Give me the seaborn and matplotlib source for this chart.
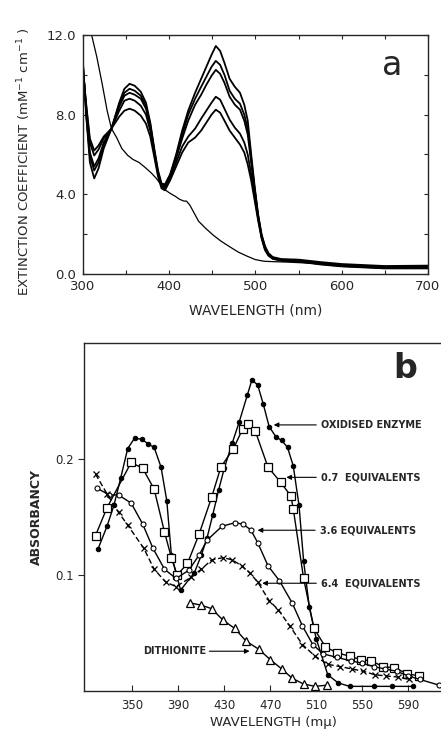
import matplotlib
matplotlib.use("Agg")
import matplotlib.pyplot as plt
import pandas as pd
import seaborn as sns

# ---------------------------------------------------------------------------
# Panel a: extinction coefficient spectra (titration series + reduced form)
# ---------------------------------------------------------------------------
WL_A = [300, 304, 308, 313, 318, 324, 333, 342, 348, 354, 360, 367, 373, 378,
        383, 387, 391, 395, 401, 408, 415, 422, 430, 437, 443, 449, 454, 459,
        464, 470, 476, 482, 487, 491, 495, 499, 503, 507, 511, 515, 520, 530,
        550, 575, 600, 650, 700]
SPEC_1 = [10.6, 7.8, 5.6, 4.8, 5.3, 6.3, 7.3, 8.6, 9.3, 9.55, 9.45, 9.15, 8.6, 7.6,
          6.2, 5.2, 4.55, 4.5, 5.0, 6.0, 7.2, 8.2, 9.1, 9.8, 10.4, 11.0, 11.45, 11.2,
          10.6, 9.8, 9.4, 9.1, 8.5, 7.7, 6.0, 4.4, 3.0, 2.0, 1.4, 1.05, 0.85, 0.75,
          0.72, 0.6, 0.5, 0.4, 0.42]
SPEC_2 = [10.5, 7.9, 5.9, 5.2, 5.6, 6.5, 7.3, 8.5, 9.1, 9.3, 9.2, 8.95, 8.45, 7.5,
          6.1, 5.1, 4.5, 4.45, 4.95, 5.9, 7.0, 8.0, 8.8, 9.4, 9.9, 10.4, 10.7, 10.5,
          10.0, 9.2, 8.8, 8.55, 8.0, 7.3, 5.8, 4.3, 2.95, 1.95, 1.35, 1.0, 0.82, 0.72,
          0.68, 0.55, 0.45, 0.36, 0.36]
SPEC_3 = [10.4, 8.0, 6.1, 5.4, 5.8, 6.6, 7.3, 8.4, 8.95, 9.1, 9.0, 8.8, 8.3, 7.4,
          6.05, 5.05, 4.45, 4.4, 4.9, 5.8, 6.8, 7.7, 8.5, 9.0, 9.5, 9.95, 10.25, 10.05,
          9.6, 8.9, 8.5, 8.25, 7.7, 7.0, 5.6, 4.2, 2.9, 1.9, 1.3, 1.0, 0.8, 0.7,
          0.66, 0.52, 0.42, 0.33, 0.32]
SPEC_4 = [10.3, 8.3, 6.6, 5.95, 6.25, 6.8, 7.3, 8.2, 8.7, 8.8, 8.7, 8.45, 8.0, 7.2,
          5.95, 5.0, 4.4, 4.3, 4.8, 5.6, 6.4, 6.9, 7.3, 7.8, 8.2, 8.6, 8.9, 8.75,
          8.3, 7.75, 7.35, 7.05, 6.6, 6.0, 5.0, 3.9, 2.8, 1.85, 1.25, 0.95, 0.78, 0.68,
          0.64, 0.5, 0.4, 0.3, 0.3]
SPEC_5 = [10.2, 8.4, 6.8, 6.2, 6.45, 6.9, 7.3, 7.9, 8.2, 8.3, 8.2, 7.95, 7.55, 6.9,
          5.8, 4.9, 4.3, 4.2, 4.7, 5.4, 6.1, 6.6, 6.85, 7.2, 7.6, 8.0, 8.25, 8.1,
          7.7, 7.2, 6.85, 6.5, 6.1, 5.5, 4.7, 3.7, 2.7, 1.8, 1.2, 0.92, 0.76, 0.66,
          0.62, 0.48, 0.38, 0.28, 0.28]

WL_RED = [300, 305, 310, 316, 322, 328, 333, 339, 345, 352, 358, 365, 372, 379,
          385, 391, 396, 401, 407, 412, 417, 420, 424, 429, 434, 442, 451, 460,
          470, 480, 490, 500, 510, 520, 535, 560, 600, 650, 700]
SPEC_RED = [13.9, 12.9, 12.0, 10.9, 9.6, 8.2, 7.3, 6.85, 6.3, 5.95, 5.75, 5.6, 5.35,
            5.08, 4.8, 4.45, 4.2, 4.05, 3.9, 3.75, 3.66, 3.66, 3.45, 3.05, 2.65, 2.3,
            1.95, 1.65, 1.37, 1.1, 0.9, 0.72, 0.64, 0.62, 0.6, 0.55, 0.45, 0.35, 0.3]

# ---------------------------------------------------------------------------
# Panel b: absorbance during reductive titration
# ---------------------------------------------------------------------------
OX_X = [320, 328, 334, 340, 346, 352, 358, 364, 369, 375, 380, 384, 392, 404,
        410, 415, 420, 425, 430, 437, 443, 450, 454, 459, 464, 469, 475, 480,
        485, 490, 495, 499, 504, 510, 520, 529, 539, 560, 576, 594]
OX_Y = [0.122, 0.142, 0.160, 0.184, 0.209, 0.218, 0.217, 0.213, 0.210, 0.193,
        0.164, 0.117, 0.087, 0.102, 0.117, 0.132, 0.152, 0.173, 0.192, 0.214,
        0.232, 0.255, 0.268, 0.264, 0.247, 0.228, 0.219, 0.216, 0.210, 0.194,
        0.160, 0.112, 0.072, 0.045, 0.014, 0.007, 0.004, 0.004, 0.004, 0.004]

EQ07_X = [318, 328, 349, 359, 369, 378, 384, 389, 398, 408, 419, 427, 438, 446,
          451, 457, 468, 479, 488, 490, 499, 508, 518, 528, 539, 549, 558, 568,
          578, 589, 599]
EQ07_Y = [0.134, 0.158, 0.197, 0.192, 0.174, 0.137, 0.115, 0.100, 0.110, 0.135,
          0.167, 0.193, 0.209, 0.226, 0.230, 0.224, 0.193, 0.180, 0.168, 0.157,
          0.097, 0.054, 0.038, 0.033, 0.030, 0.027, 0.026, 0.021, 0.020, 0.015,
          0.013]

EQ36_X = [319, 330, 338, 349, 359, 368, 378, 388, 399, 408, 415, 428, 439, 446,
          453, 459, 468, 478, 489, 498, 507, 516, 528, 540, 550, 560, 570, 580,
          590, 600, 617]
EQ36_Y = [0.175, 0.169, 0.169, 0.162, 0.144, 0.123, 0.105, 0.097, 0.104, 0.117,
          0.130, 0.142, 0.145, 0.144, 0.139, 0.128, 0.108, 0.095, 0.076, 0.056,
          0.040, 0.032, 0.029, 0.026, 0.024, 0.021, 0.019, 0.017, 0.013, 0.010,
          0.005]

EQ64_X = [318, 328, 338, 346, 360, 369, 379, 388, 401, 410, 419, 429, 437, 445,
          452, 459, 469, 477, 487, 498, 509, 520, 531, 541, 551, 561, 571, 581, 591]
EQ64_Y = [0.187, 0.170, 0.154, 0.143, 0.123, 0.105, 0.094, 0.090, 0.098, 0.105,
          0.113, 0.115, 0.113, 0.108, 0.102, 0.094, 0.078, 0.070, 0.056, 0.040,
          0.030, 0.023, 0.021, 0.019, 0.017, 0.014, 0.013, 0.012, 0.010]

DITH_X = [400, 410, 419, 429, 439, 449, 460, 470, 480, 489, 499, 509, 519]
DITH_Y = [0.076, 0.074, 0.071, 0.061, 0.054, 0.043, 0.036, 0.027, 0.019, 0.011,
          0.006, 0.004, 0.005]

# label text, (text x, y), arrow tip x
B_LABELS = [
    ("OXIDISED ENZYME", 514, 0.2294, 473),
    ("0.7  EQUIVALENTS", 514, 0.1842, 484),
    ("3.6 EQUIVALENTS", 513, 0.1386, 459),
    ("6.4  EQUIVALENTS", 514, 0.0929, 463),
]

sns.set_style("ticks")
plt.rcParams["font.family"] = ["DejaVu Sans"]

fig = plt.figure(figsize=(4.41, 7.32), dpi=100)

# ---------------------------------------------------------------------------
# a
# ---------------------------------------------------------------------------
ax = fig.add_axes([0.1882, 0.6257, 0.7823, 0.3265])
spectra = pd.DataFrame({"wl": WL_A, "s1": SPEC_1, "s2": SPEC_2, "s3": SPEC_3,
                        "s4": SPEC_4, "s5": SPEC_5})
for col in ["s1", "s2", "s3", "s4", "s5"]:
    sns.lineplot(data=spectra, x="wl", y=col, ax=ax, color="black",
                 lw=1.3, estimator=None)
sns.lineplot(x=WL_RED, y=SPEC_RED, ax=ax, color="black", lw=0.9, estimator=None)

ax.set_xlim(300, 700)
ax.set_ylim(0, 12)
ax.set_xticks([300, 400, 500, 600, 700])
ax.set_xticks([350, 450, 550, 650], minor=True)
ax.set_yticks([0, 4, 8, 12])
ax.set_yticklabels(["0.0", "4.0", "8.0", "12.0"])
ax.set_yticks([2, 6, 10], minor=True)
ax.tick_params(which="both", direction="in", top=True, right=True,
               length=3, width=0.8, labelsize=9.5)
ax.tick_params(axis="x", pad=4)
ax.tick_params(axis="y", pad=5)
for sp in ax.spines.values():
    sp.set_linewidth(1.0)
ax.set_xlabel("WAVELENGTH (nm)", fontsize=10)
ax.set_ylabel("EXTINCTION COEFFICIENT (mM$^{-1}$ cm$^{-1}$ )", fontsize=9.5)
ax.xaxis.set_label_coords(0.5, -0.125)
ax.yaxis.set_label_coords(-0.145, 0.47)
ax.text(0.895, 0.874, "a", transform=ax.transAxes, fontsize=24,
        ha="center", va="center")

# ---------------------------------------------------------------------------
# b
# ---------------------------------------------------------------------------
bx = fig.add_axes([0.1905, 0.056, 0.857, 0.4754])
sns.lineplot(x=OX_X, y=OX_Y, ax=bx, color="black", lw=1.0, estimator=None,
             marker="o", markersize=3.2, markerfacecolor="black",
             markeredgecolor="black")
sns.lineplot(x=EQ07_X, y=EQ07_Y, ax=bx, color="black", lw=1.0, estimator=None,
             marker="s", markersize=5.5, markerfacecolor="white",
             markeredgecolor="black", markeredgewidth=0.9)
sns.lineplot(x=EQ36_X, y=EQ36_Y, ax=bx, color="black", lw=1.0, estimator=None,
             marker="o", markersize=3.6, markerfacecolor="white",
             markeredgecolor="black", markeredgewidth=0.8)
sns.lineplot(x=EQ64_X, y=EQ64_Y, ax=bx, color="black", lw=1.0, estimator=None,
             linestyle=(0, (4, 2)), marker="x", markersize=4,
             markeredgecolor="black", markeredgewidth=0.9)
sns.lineplot(x=DITH_X, y=DITH_Y, ax=bx, color="black", lw=1.0, estimator=None,
             marker="^", markersize=6, markerfacecolor="white",
             markeredgecolor="black", markeredgewidth=0.9)

for text, tx, ty, tip in B_LABELS:
    bx.text(tx, ty, text, fontsize=7, fontweight="bold", ha="left", va="center")
    bx.annotate("", xy=(tip, ty), xytext=(tx - 4, ty),
                arrowprops=dict(arrowstyle="-|>", color="black", lw=0.8,
                                mutation_scale=7, shrinkA=0, shrinkB=0))
bx.text(414, 0.0343, "DITHIONITE", fontsize=7, fontweight="bold",
        ha="right", va="center")
bx.annotate("", xy=(452, 0.0343), xytext=(417, 0.0343),
            arrowprops=dict(arrowstyle="-|>", color="black", lw=0.8,
                            mutation_scale=7, shrinkA=0, shrinkB=0))

bx.set_xlim(308, 636.7)
bx.set_ylim(0, 0.3)
bx.set_xticks([350, 390, 430, 470, 510, 550, 590])
bx.set_yticks([0.1, 0.2])
bx.set_yticklabels(["0.1", "0.2"])
bx.tick_params(axis="x", direction="in", length=4, width=0.8, labelsize=8.5, pad=6)
bx.tick_params(axis="y", direction="out", length=4, width=0.8, labelsize=8.5, pad=3)
bx.spines["right"].set_visible(False)
for sp in ["left", "bottom", "top"]:
    bx.spines[sp].set_linewidth(1.0)
bx.set_xlabel("WAVELENGTH (m\u03bc)", fontsize=9.5)
bx.set_ylabel("ABSORBANCY", fontsize=9, fontweight="bold")
bx.xaxis.set_label_coords(0.5, -0.072)
bx.yaxis.set_label_coords(-0.108, 0.5)
bx.text(0.849, 0.928, "b", transform=bx.transAxes, fontsize=24,
        fontweight="bold", ha="center", va="center")

fig.savefig("out.png", dpi=100)
plt.close(fig)
